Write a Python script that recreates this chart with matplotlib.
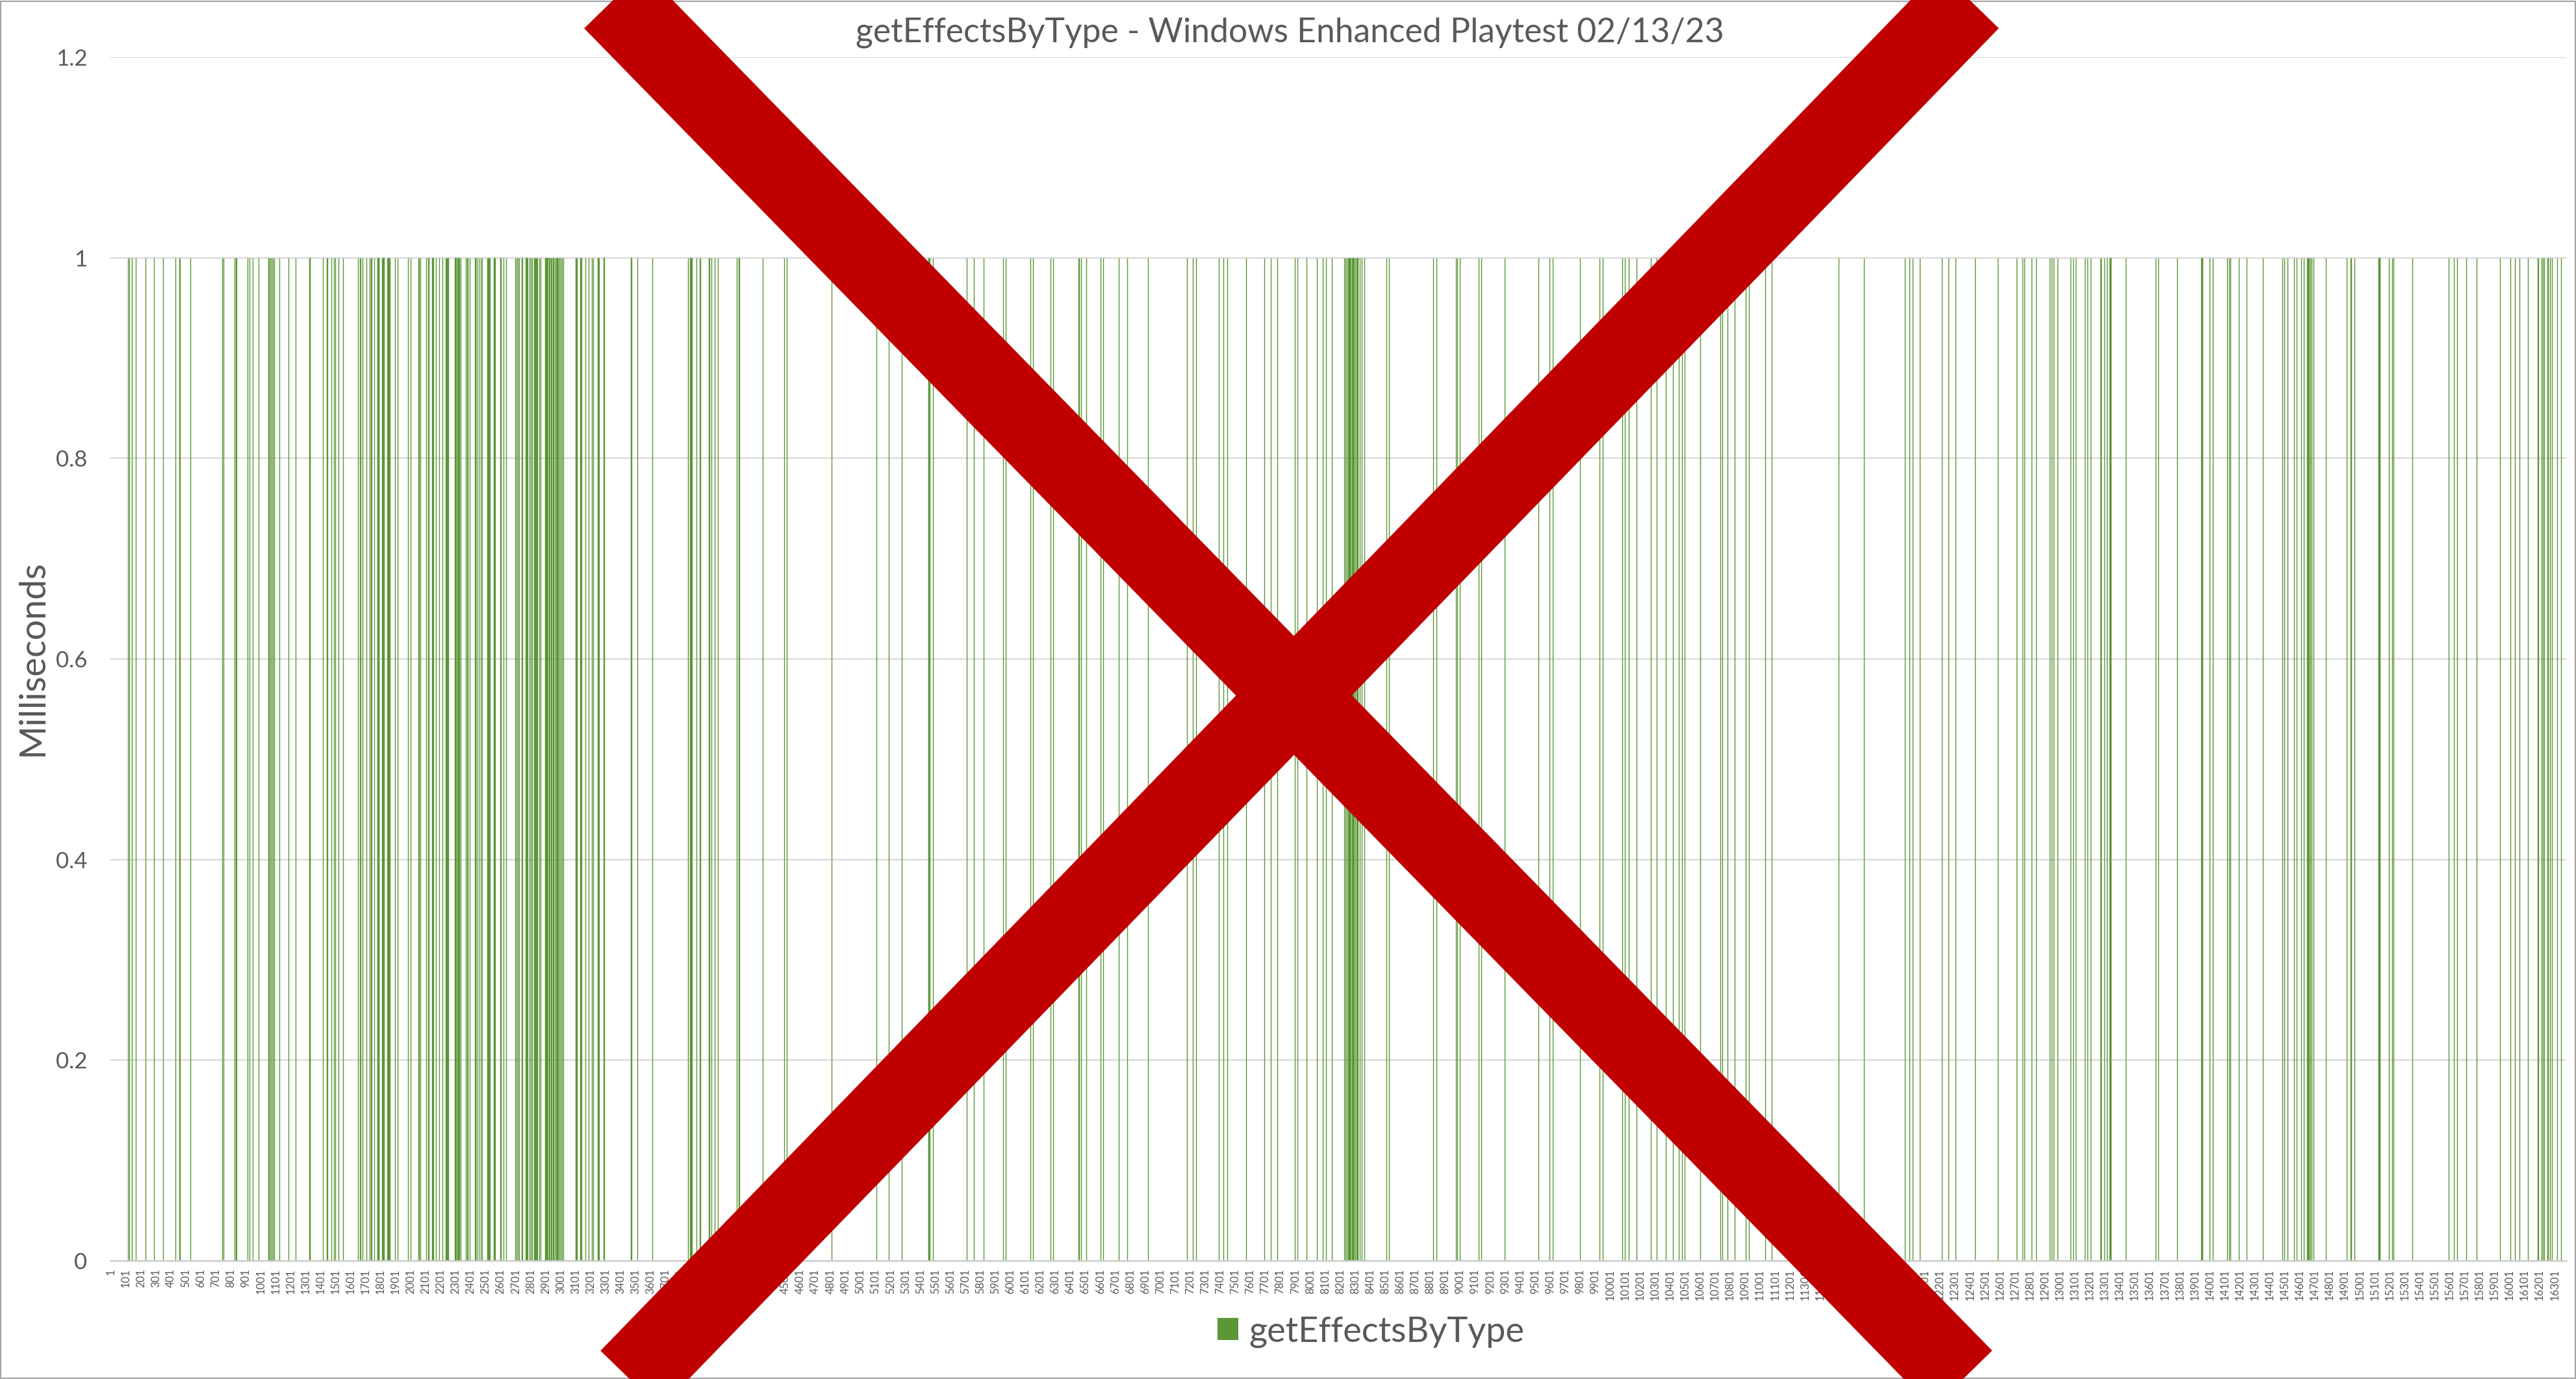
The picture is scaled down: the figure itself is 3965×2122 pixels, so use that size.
import numpy as np
import matplotlib
matplotlib.use("Agg")
import matplotlib.pyplot as plt
from matplotlib.lines import Line2D
from matplotlib.patches import Rectangle

plt.rcParams['font.family'] = ['Lato', 'DejaVu Sans']

# ---------------- data ----------------
chart_title = "getEffectsByType - Windows Enhanced Playtest 02/13/23"
series_name = "getEffectsByType"
y_label = "Milliseconds"
frame_count = 16380
spike_ms = 1.0
spike_frames = [
    117, 123, 140, 167, 234, 289, 349, 433, 456, 461, 530, 745, 751, 826, 833, 839,
    911, 927, 947, 988, 1050, 1057, 1064, 1074, 1083, 1090, 1125, 1186, 1233, 1327,
    1330, 1414, 1443, 1447, 1472, 1490, 1498, 1519, 1548, 1649, 1662, 1667, 1681, 1706,
    1727, 1736, 1740, 1758, 1778, 1781, 1784, 1787, 1789, 1811, 1815, 1820, 1844, 1849,
    1853, 1857, 1862, 1895, 1912, 1984, 1999, 2052, 2058, 2064, 2104, 2119, 2145, 2150,
    2168, 2191, 2211, 2234, 2239, 2243, 2247, 2252, 2295, 2302, 2315, 2320, 2325, 2335,
    2370, 2376, 2382, 2396, 2431, 2441, 2454, 2468, 2478, 2512, 2516, 2520, 2525, 2529,
    2555, 2562, 2601, 2619, 2637, 2699, 2708, 2715, 2724, 2743, 2769, 2775, 2780, 2793,
    2803, 2812, 2824, 2828, 2832, 2837, 2841, 2845, 2858, 2866, 2899, 2903, 2907, 2913,
    2925, 2935, 2941, 2952, 2961, 2971, 2978, 2985, 2993, 3000, 3010, 3020, 3101, 3105,
    3111, 3133, 3137, 3141, 3165, 3188, 3208, 3219, 3251, 3257, 3289,
    3472, 3513, 3612, 3851, 3866, 3872, 3878, 3906, 3927, 3933, 3989, 3994, 4007, 4027,
    4050, 4176, 4191, 4348, 4492, 4509, 4808,
    5107, 5190, 5276, 5453, 5455, 5457, 5459, 5461, 5484, 5710, 5757, 5822, 5952, 5970,
    6134, 6152, 6269, 6286, 6455, 6459, 6472, 6507,
    6602, 6621, 6724, 6780, 6919, 7179, 7218, 7239, 7391, 7421, 7447, 7573, 7694, 7738,
    7781, 7898, 7915, 7976, 8045, 8084, 8106, 8145,
    8229, 8236, 8243, 8252, 8258, 8264, 8268, 8272, 8278, 8284, 8290, 8301, 8310, 8316,
    8330, 8344, 8362, 8509, 8526, 8821, 8843, 8973, 8981, 8999, 9124, 9142, 9298, 9523,
    9597, 9618, 9800,
    9930, 9952, 10082, 10099, 10125, 10177, 10273, 10312, 10372, 10420, 10459, 10481,
    10498, 10602, 10736, 10749, 10784, 10832, 10905, 10927, 11035, 11079,
    11525, 11694, 11967, 11997, 12019, 12067, 12214, 12257, 12305, 12435, 12587, 12712,
    12751, 12764, 12812, 12842, 12933, 12946, 12959, 12985, 13072,
    13089, 13107, 13167, 13186, 13206, 13271, 13276, 13297, 13316, 13332, 13339, 13440,
    13641, 13656, 13783, 13943, 13950, 14000, 14020, 14118, 14128, 14138, 14194, 14246,
    14355, 14486, 14498, 14519, 14563, 14580, 14610, 14628, 14649, 14654, 14658, 14662,
    14671, 14681,
    14693, 14775, 14914, 14940, 14944, 14966, 15126, 15128, 15130, 15133, 15135, 15195,
    15217, 15226, 15351, 15594, 15629, 15650, 15711, 15780, 15936, 16006, 16036, 16066,
    16123, 16188, 16192, 16214, 16222, 16231, 16253, 16257, 16270, 16283, 16318, 16344,
]
x_tick_step = 100
y_ticks = [0, 0.2, 0.4, 0.6, 0.8, 1.0, 1.2]
y_tick_labels = ["0", "0.2", "0.4", "0.6", "0.8", "1", "1.2"]

# ---------------- build series ----------------
frames = np.arange(1, frame_count + 1)
ms = np.zeros(frame_count)
ms[np.array(spike_frames) - 1] = spike_ms
nz = ms > 0

# ---------------- figure ----------------
W, H, DPI = 3966, 2122, 200
fig = plt.figure(figsize=(W / DPI, H / DPI), dpi=DPI)
fig.patch.set_facecolor("white")

green = "#5b9637"
gray_txt = "#595959"
grid_c = "#d9d9d9"

ax = fig.add_axes([170.5 / W, 182 / H, 3780 / W, 1852 / H])
ax.bar(frames[nz], ms[nz], width=1.0, color=green, edgecolor=green,
       linewidth=0.5, zorder=2)
ax.set_xlim(0.5, frame_count + 0.5)
ax.set_ylim(0, 1.2)
ax.set_yticks(y_ticks)
ax.set_yticklabels(y_tick_labels)
xt = frames[::x_tick_step]
ax.set_xticks(xt)
ax.set_xticklabels([str(v) for v in xt], rotation=90, fontsize=6, color=gray_txt)
ax.tick_params(axis="x", length=0, pad=4.5)
ax.tick_params(axis="y", length=0, pad=13, labelsize=12.5, labelcolor=gray_txt)
ax.grid(axis="y", color=grid_c, linewidth=0.8, zorder=0)
ax.set_axisbelow(True)
for s in ["top", "right", "left"]:
    ax.spines[s].set_visible(False)
ax.spines["bottom"].set_color("#d0d0d0")
ax.spines["bottom"].set_linewidth(0.9)

fig.text(1985 / W, 1 - 50 / H, chart_title, ha="center", va="center",
         fontsize=18.6, color=gray_txt)
fig.text(50 / W, 1 - 1012 / H, y_label, ha="center", va="center",
         rotation=90, fontsize=20, color=gray_txt)

handle = Rectangle((0, 0), 1, 1, facecolor=green, edgecolor="none")
fig.legend([handle], [series_name], loc="center",
           bbox_to_anchor=(2110 / W, 1 - 2049 / H), frameon=False,
           fontsize=19.5, labelcolor=gray_txt, handlelength=0.6,
           handleheight=0.6, handletextpad=0.3)

# outer chart border
fig.add_artist(Rectangle((1 / W, 1 / H), (W - 3) / W, (H - 3) / H,
                         transform=fig.transFigure, fill=False,
                         edgecolor="#a6a6a6", linewidth=0.8, zorder=5))

# big red X overlay
red = "#c00000"
def stroke(x_top, x_bot):
    t = np.array([-0.05, 1.05])
    xs = x_top + (x_bot - x_top) * t
    ys = 1 - t
    fig.add_artist(Line2D(xs, ys, transform=fig.transFigure, color=red,
                          linewidth=46, solid_capstyle="butt", zorder=10))
stroke(374 * 2.529 / W, 1194 * 2.529 / W)
stroke(1198 * 2.529 / W, 384 * 2.529 / W)

fig.savefig("out.png", dpi=DPI, facecolor="white")
